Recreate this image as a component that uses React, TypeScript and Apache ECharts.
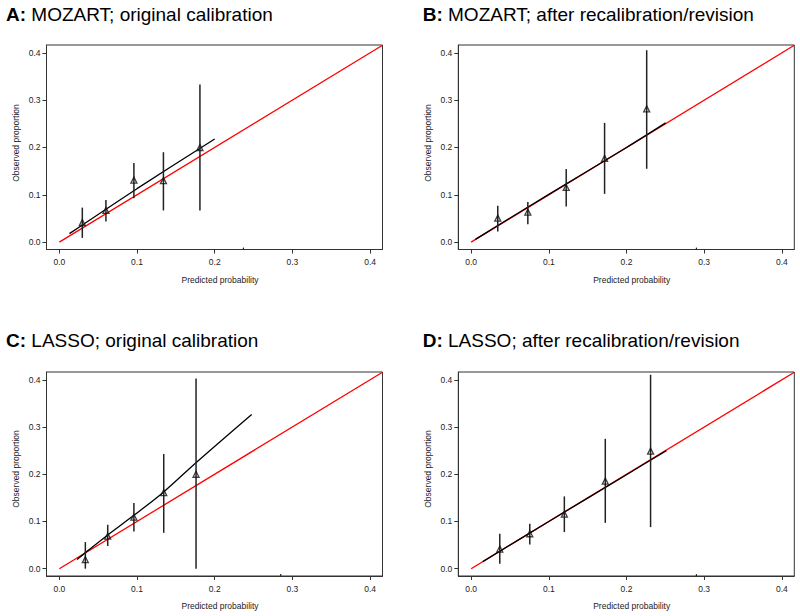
import React, { useEffect, useRef } from "react";
import * as echarts from "echarts";

const tickValues = [0, 0.1, 0.2, 0.3, 0.4];
const titleLetters = ["A:", "B:", "C:", "D:"];
const titleTexts = [
  "MOZART; original calibration",
  "MOZART; after recalibration/revision",
  "LASSO; original calibration",
  "LASSO; after recalibration/revision",
];
const xAxisName = "Predicted probability";
const yAxisName = "Observed proportion";
const idealLine = [0, 0.416];

// Panel A
const aPredicted = [0.0296, 0.06, 0.096, 0.134, 0.181];
const aObserved = [0.0415, 0.067, 0.131, 0.13, 0.2];
const aLower = [0.009, 0.0436, 0.093, 0.067, 0.067];
const aUpper = [0.073, 0.089, 0.167, 0.19, 0.333];
const aCurveX = [0.013, 0.1, 0.2];
const aCurveY = [0.018, 0.113, 0.218];
const aRug = [0.237];

// Panel B
const bPredicted = [0.0343, 0.073, 0.1224, 0.1718, 0.226];
const bObserved = [0.0508, 0.0635, 0.1156, 0.177, 0.2815];
const bLower = [0.0225, 0.038, 0.0754, 0.102, 0.155];
const bUpper = [0.077, 0.085, 0.1545, 0.252, 0.4055];
const bCurveX = [0.0055, 0.1, 0.2, 0.2504];
const bCurveY = [0.006, 0.101, 0.2, 0.252];
const bRug = [0.29];

// Panel C
const cPredicted = [0.0335, 0.0623, 0.096, 0.1344, 0.176];
const cObserved = [0.019, 0.069, 0.109, 0.161, 0.2];
const cLower = [0.0, 0.048, 0.079, 0.076, 0.0];
const cUpper = [0.0563, 0.093, 0.139, 0.243, 0.403];
const cCurveX = [0.023, 0.0335, 0.062, 0.096, 0.134, 0.177, 0.2476];
const cCurveY = [0.0197, 0.034, 0.071, 0.113, 0.162, 0.226, 0.3266];
const cRug = [0.285];

// Panel D
const dPredicted = [0.0369, 0.0755, 0.12, 0.1727, 0.231];
const dObserved = [0.0415, 0.074, 0.1156, 0.1854, 0.249];
const dLower = [0.0106, 0.0514, 0.0775, 0.097, 0.088];
const dUpper = [0.074, 0.095, 0.153, 0.275, 0.4106];
const dCurveX = [0.015, 0.1, 0.2, 0.2513];
const dCurveY = [0.015, 0.1, 0.199, 0.25];
const dRug = [0.29];

const panels = [
  { p: aPredicted, o: aObserved, lo: aLower, hi: aUpper, cx: aCurveX, cy: aCurveY, rug: aRug },
  { p: bPredicted, o: bObserved, lo: bLower, hi: bUpper, cx: bCurveX, cy: bCurveY, rug: bRug },
  { p: cPredicted, o: cObserved, lo: cLower, hi: cUpper, cx: cCurveX, cy: cCurveY, rug: cRug },
  { p: dPredicted, o: dObserved, lo: dLower, hi: dUpper, cx: dCurveX, cy: dCurveY, rug: dRug },
];

const FONT = "Liberation Sans, Arial, Helvetica, sans-serif";
const X_MIN = -0.0165;
const X_MAX = 0.416;
const Y_MIN = -0.0155;
const Y_MAX = 0.4165;

const gridBoxes = [
  { left: 46.5, top: 45, width: 336, height: 204.5 },
  { left: 458.3, top: 45, width: 336, height: 204.5 },
  { left: 46.5, top: 372, width: 336, height: 204 },
  { left: 458.3, top: 372, width: 336, height: 204 },
];
const titlePos = [
  { x: 6, y: 14 },
  { x: 422.7, y: 14 },
  { x: 6, y: 340 },
  { x: 422.7, y: 340 },
];
const xNamePos = [
  { x: 220, y: 280 },
  { x: 631.7, y: 280 },
  { x: 220, y: 606 },
  { x: 631.7, y: 606 },
];
const yNamePos = [
  { x: 16, y: 143 },
  { x: 427.7, y: 143 },
  { x: 16, y: 469 },
  { x: 427.7, y: 469 },
];

export default function App() {
  const ref = useRef<HTMLDivElement>(null);
  useEffect(() => {
    if (!ref.current) return;
    const chart = echarts.init(ref.current, null, { renderer: "svg" });

    const grid = gridBoxes.map((g) => ({
      ...g,
      show: true,
      borderColor: "#333",
      borderWidth: 1,
      backgroundColor: "transparent",
    }));

    const xAxis = gridBoxes.map((_, i) => ({
      type: "value",
      gridIndex: i,
      min: X_MIN,
      max: X_MAX,
      splitLine: { show: false },
      axisLine: { show: true, onZero: false, lineStyle: { color: "#333", width: 1 } },
      axisTick: { show: true, customValues: tickValues, length: 4, lineStyle: { color: "#333", width: 1 } },
      axisLabel: {
        customValues: tickValues,
        formatter: (v: number) => v.toFixed(1),
        fontSize: 8.5,
        color: "#222",
        margin: 8,
        fontFamily: FONT,
      },
    }));

    const yAxis = gridBoxes.map((_, i) => ({
      type: "value",
      gridIndex: i,
      min: Y_MIN,
      max: Y_MAX,
      splitLine: { show: false },
      axisLine: { show: true, onZero: false, lineStyle: { color: "#333", width: 1 } },
      axisTick: { show: true, customValues: tickValues, length: 4, lineStyle: { color: "#333", width: 1 } },
      axisLabel: {
        customValues: tickValues,
        formatter: (v: number) => v.toFixed(1),
        fontSize: 8.5,
        color: "#222",
        margin: 6,
        fontFamily: FONT,
      },
    }));

    const series: any[] = [];
    panels.forEach((pn, i) => {
      series.push({
        type: "line",
        xAxisIndex: i,
        yAxisIndex: i,
        data: [
          [idealLine[0], idealLine[0]],
          [idealLine[1], idealLine[1]],
        ],
        symbol: "none",
        lineStyle: { color: "#ff0000", width: 1.3 },
        silent: true,
        z: 2,
      });
      series.push({
        type: "line",
        xAxisIndex: i,
        yAxisIndex: i,
        data: pn.cx.map((x, k) => [x, pn.cy[k]]),
        symbol: "none",
        smooth: 0.3,
        lineStyle: { color: "#000", width: 1.3 },
        silent: true,
        z: 3,
      });
      series.push({
        type: "custom",
        xAxisIndex: i,
        yAxisIndex: i,
        data: pn.p.map((x, k) => [x, pn.lo[k], pn.hi[k]]),
        encode: { x: 0, y: [1, 2] },
        renderItem: (params: any, api: any) => {
          const x = api.value(0);
          const p1 = api.coord([x, api.value(1)]);
          const p2 = api.coord([x, api.value(2)]);
          return {
            type: "line",
            shape: { x1: p1[0], y1: p1[1], x2: p2[0], y2: p2[1] },
            style: { stroke: "#222", lineWidth: 1.5 },
          };
        },
        silent: true,
        z: 4,
      });
      series.push({
        type: "scatter",
        xAxisIndex: i,
        yAxisIndex: i,
        data: pn.p.map((x, k) => [x, pn.o[k]]),
        symbol: "triangle",
        symbolSize: 6,
        itemStyle: { color: "rgba(255,255,255,0)", borderColor: "#111", borderWidth: 1.3 },
        silent: true,
        z: 5,
      });
      series.push({
        type: "custom",
        xAxisIndex: i,
        yAxisIndex: i,
        data: pn.rug.map((x) => [x, Y_MIN, Y_MIN + 0.004]),
        encode: { x: 0, y: [1, 2] },
        renderItem: (params: any, api: any) => {
          const x = api.value(0);
          const p1 = api.coord([x, api.value(1)]);
          const p2 = api.coord([x, api.value(2)]);
          return {
            type: "line",
            shape: { x1: p1[0], y1: p1[1], x2: p2[0], y2: p2[1] },
            style: { stroke: "#222", lineWidth: 1.2 },
          };
        },
        silent: true,
        z: 4,
      });
    });

    const graphic: any[] = [];
    titlePos.forEach((tp, i) => {
      graphic.push({
        type: "text",
        x: tp.x,
        y: tp.y,
        style: {
          text: `{b|${titleLetters[i]}} ${titleTexts[i]}`,
          rich: { b: { fontWeight: "bold", fontSize: 19, fontFamily: FONT, fill: "#000" } },
          fontSize: 19,
          fontFamily: FONT,
          fill: "#000",
          verticalAlign: "middle",
          align: "left",
        },
      });
    });
    xNamePos.forEach((p) => {
      graphic.push({
        type: "text",
        x: p.x,
        y: p.y,
        style: {
          text: xAxisName,
          fontSize: 8.5,
          fontFamily: FONT,
          fill: "#222",
          align: "center",
          verticalAlign: "middle",
        },
      });
    });
    yNamePos.forEach((p) => {
      graphic.push({
        type: "text",
        x: p.x,
        y: p.y,
        rotation: Math.PI / 2,
        style: {
          text: yAxisName,
          fontSize: 8.5,
          fontFamily: FONT,
          fill: "#222",
          align: "center",
          verticalAlign: "middle",
        },
      });
    });

    chart.setOption({
      animation: false,
      backgroundColor: "#fff",
      grid,
      xAxis,
      yAxis,
      series,
      graphic,
    });
    return () => chart.dispose();
  }, []);
  return (
    <div
      ref={ref}
      style={{ position: "fixed", left: 0, top: 0, width: 800, height: 616 }}
    />
  );
}
